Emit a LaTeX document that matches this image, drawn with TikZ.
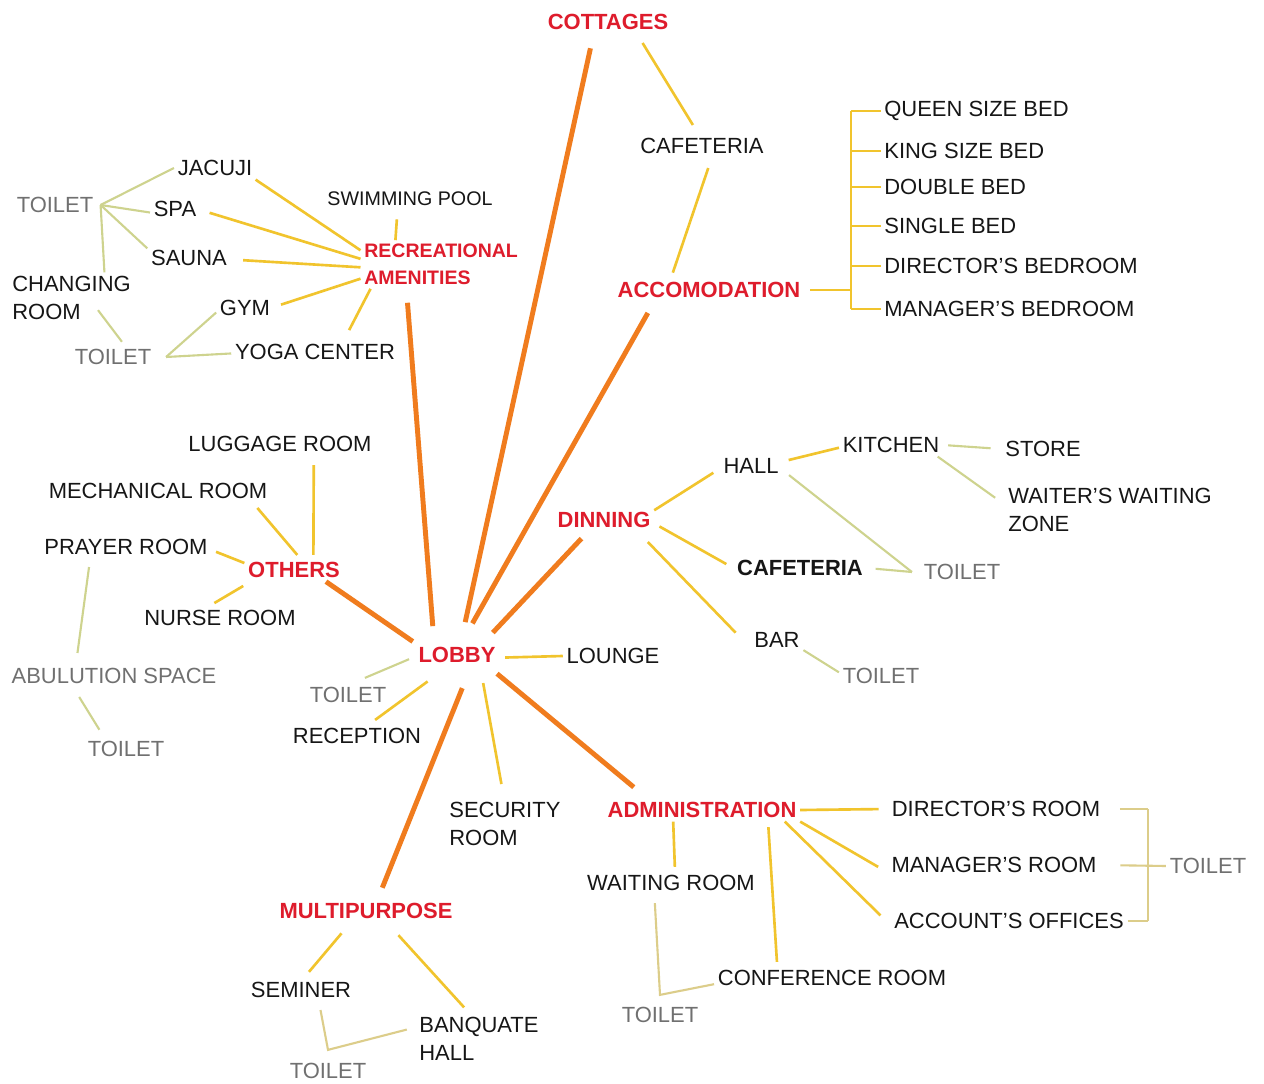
\documentclass[tikz,border=0pt]{standalone}
\usepackage{fontspec}
\setmainfont{Liberation Sans}
\usetikzlibrary{shapes.geometric, calc}

\definecolor{spokeorange}{RGB}{240,124,30}
\definecolor{linkyellow}{RGB}{241,196,45}
\definecolor{wcolive}{RGB}{206,211,142}
\definecolor{wctan}{RGB}{220,205,138}
\definecolor{hubred}{RGB}{222,28,44}
\definecolor{wcgray}{RGB}{112,112,112}
\definecolor{roomblack}{RGB}{22,22,22}

\tikzset{
	room/.style={text=roomblack, inner sep=2pt},
	hub/.style={text=hubred, font=\fontsize{12.5}{16}\selectfont\bfseries, inner sep=2pt},
	wc/.style={text=wcgray, inner sep=2pt},
	spoke/.style={draw=spokeorange, line width=2.8pt},
	link/.style={draw=linkyellow, line width=1.5pt},
	wcline/.style={draw=wcolive, line width=1.2pt},
	wcbrace/.style={draw=wctan, line width=1.2pt}
}

\begin{document}
\begin{tikzpicture}[x=0.02cm, y=-0.02cm, font=\fontsize{12.5}{16}\selectfont]
	\fill[white] (0,0) rectangle (1264,1084);
	\useasboundingbox (0,0) rectangle (1264,1084);

	% main blocks
	\node[hub]	(cottages)	at (608,22)	{COTTAGES};
	\node[hub]	(accom)	at (709,290)	{ACCOMODATION};
	\node[hub, font=\fontsize{11.1}{15.4}\selectfont\bfseries, align=left, anchor=west]	(rec)	at (360.5,264.5)	{RECREATIONAL\\AMENITIES};
	\node[hub]	(dinning)	at (604,520)	{DINNING};
	\node[hub]	(others)	at (294,570)	{OTHERS};
	\node[hub, shape=ellipse, inner xsep=-0.09cm, inner ysep=0pt, minimum height=1.32cm]	(lobby)	at (457,655)	{LOBBY};
	\node[hub]	(admin)	at (702,810)	{ADMINISTRATION};
	\node[hub]	(multi)	at (366,911)	{MULTIPURPOSE};

	% rooms
	\node[room]	(cafA)	at (702,146)	{CAFETERIA};
	\node[room, anchor=west]	(queen)	at (880.5,111)	{QUEEN SIZE BED};
	\node[room, anchor=west]	(king)	at (880.5,151)	{KING SIZE BED};
	\node[room, anchor=west]	(double)	at (880.5,187)	{DOUBLE BED};
	\node[room, anchor=west]	(single)	at (880.5,226)	{SINGLE BED};
	\node[room, anchor=west]	(dirbed)	at (880.5,266)	{DIRECTOR'S BEDROOM};
	\node[room, anchor=west]	(manbed)	at (880.5,309)	{MANAGER'S BEDROOM};

	\node[room]	(jacuji)	at (215,168)	{JACUJI};
	\node[room, font=\fontsize{11.2}{15.4}\selectfont]	(swimming)	at (410,199)	{SWIMMING POOL};
	\node[room]	(spa)	at (175,209)	{SPA};
	\node[room]	(sauna)	at (189,258)	{SAUNA};
	\node[room, align=left, anchor=west]	(changing)	at (8.5,298)	{CHANGING\\ROOM};
	\node[room]	(gym)	at (245,308)	{GYM};
	\node[room]	(yoga)	at (315,352)	{YOGA CENTER};
	\node[wc]	(wcA)	at (55,205)	{TOILET};
	\node[wc]	(wcB)	at (113,357)	{TOILET};

	\node[room]	(luggage)	at (280,444)	{LUGGAGE ROOM};
	\node[room]	(mech)	at (158,491)	{MECHANICAL ROOM};
	\node[room]	(prayer)	at (126,547)	{PRAYER ROOM};
	\node[room]	(nurse)	at (220,618)	{NURSE ROOM};
	\node[wc]	(abul)	at (114,676)	{ABULUTION SPACE};
	\node[wc]	(wcC)	at (126,749)	{TOILET};

	\node[wc]	(wcL)	at (348,695)	{TOILET};
	\node[room]	(reception)	at (357,736)	{RECEPTION};
	\node[room]	(lounge)	at (613,656)	{LOUNGE};
	\node[room, align=left, anchor=west]	(security)	at (445.5,824)	{SECURITY\\ROOM};

	\node[room]	(hall)	at (751,466)	{HALL};
	\node[room]	(kitchen)	at (891,445)	{KITCHEN};
	\node[room]	(store)	at (1043,449)	{STORE};
	\node[room, align=left, anchor=west]	(waiter)	at (1004.5,510)	{WAITER'S WAITING\\ZONE};
	\node[room, font=\fontsize{12.5}{16}\selectfont\bfseries]	(cafB)	at (800,568)	{CAFETERIA};
	\node[wc]	(wcD)	at (962,572)	{TOILET};
	\node[room]	(bar)	at (777,640)	{BAR};
	\node[wc]	(wcE)	at (881,676)	{TOILET};

	\node[room]	(dirroom)	at (996,809)	{DIRECTOR'S ROOM};
	\node[room]	(manroom)	at (994,865)	{MANAGER'S ROOM};
	\node[room]	(account)	at (1009,921)	{ACCOUNT'S OFFICES};
	\node[wc]	(wcG)	at (1208,866)	{TOILET};
	\node[room]	(waiting)	at (671,883)	{WAITING ROOM};
	\node[room]	(conference)	at (832,978)	{CONFERENCE ROOM};
	\node[wc]	(wcF)	at (660,1015)	{TOILET};

	\node[room]	(seminer)	at (301,990)	{SEMINER};
	\node[room, align=left, anchor=west]	(banquate)	at (415.5,1038.5)	{BANQUATE\\HALL};
	\node[wc]	(wcH)	at (328,1071)	{TOILET};

	% spokes from the lobby
	\draw[spoke, shorten >=0.3cm]	(lobby.76) -- (cottages.219);
	\draw[spoke, shorten >=0.28cm]	(lobby.130) -- (rec.215);
	\draw[spoke, shorten >=0.26cm]	(lobby.64) -- (accom.192);
	\draw[spoke, shorten >=0.19cm]	(lobby.32) -- (dinning.216);
	\draw[spoke]	(lobby.163) -- (others.340);
	\draw[spoke, shorten >=0.35cm]	(lobby.335) -- (admin.168);
	\draw[spoke, shorten >=0.25cm]	(lobby.279) -- (multi.45);

	\draw[link]	(lobby.357) -- (lounge.west);
	\draw[link, shorten >=0.29cm]	(lobby.313) -- (security.92);
	\draw[link, shorten >=0.15cm]	(lobby.222) -- (reception.44);
	\draw[wcline, shorten >=0.28cm]	(lobby.185) -- (wcL.71);

	% recreational amenities
	\draw[link]	(jacuji.344) -- (rec.170);
	\draw[link, shorten <=0.2cm]	(spa.358) -- (rec.176);
	\draw[link, shorten <=0.25cm]	(sauna.358) -- (rec.182);
	\draw[link, shorten <=0.15cm]	(gym.2) -- (rec.190);
	\draw[link, shorten <=0.23cm]	(yoga.22) -- (rec.199);
	\draw[link, shorten <=0.19cm]	(swimming.221) -- (rec.152);

	\coordinate (wcAhub) at ([xshift=0.07cm]wcA.east);
	\draw[wcline]	(wcAhub) -- (jacuji.180);
	\draw[wcline]	(wcAhub) -- (spa.188);
	\draw[wcline]	(wcAhub) -- (sauna.167);
	\draw[wcline]	(wcAhub) -- (changing.38);

	\coordinate (wcBhub) at ([xshift=0.22cm]wcB.east);
	\draw[wcline]	(wcBhub) -- (gym.189);
	\draw[wcline]	(wcBhub) -- (yoga.181);
	\draw[wcline, shorten <=-0.34cm, shorten >=0.09cm]	(changing.325) -- (wcB.45);

	% cottages and accomodation
	\draw[link, shorten <=0.22cm, shorten >=0.22cm]	(cottages.338) -- (cafA.106);
	\draw[link, shorten <=0.22cm, shorten >=0.12cm]	(cafA.310) -- (accom.163);

	\coordinate (accbr) at ([xshift=0.94cm]accom.east);
	\draw[link, shorten <=0.12cm]	(accom.east) -- (accbr);
	\draw[link]	(queen.west -| accbr) -- (manbed.west -| accbr);
	\foreach \bed in {queen, king, double, single, dirbed, manbed}
		\draw[link]	(\bed.west) -- (\bed.west -| accbr);

	% others
	\draw[link, shorten <=0.07cm, shorten >=0.19cm]	(others.31) -- (luggage.341);
	\draw[link, shorten <=0.09cm, shorten >=0.14cm]	(others.62) -- (mech.353);
	\draw[link, shorten >=0.1cm]	(others.172) -- (prayer.358);
	\draw[link, shorten <=0.17cm, shorten >=0.13cm]	(others.195) -- (nurse.134);
	\draw[wcline, shorten <=0.17cm, shorten >=0.23cm]	(prayer.198) -- (abul.163);
	\draw[wcline, shorten <=0.22cm, shorten >=0.18cm]	(abul.196) -- (wcC.152);

	% dinning
	\draw[link, shorten >=0.15cm]	(dinning.11) -- (hall.185);
	\draw[link, shorten <=0.12cm, shorten >=0.16cm]	(dinning.356) -- (cafB.west);
	\draw[link, shorten <=0.29cm, shorten >=0.43cm]	(dinning.341) -- (bar.197);
	\draw[link, shorten <=0.13cm]	(hall.8) -- (kitchen.183);

	\coordinate (wcDhub) at ([xshift=-0.16cm]wcD.west);
	\draw[wcline, shorten <=0.17cm]	(hall.353) -- (wcDhub);
	\draw[wcline, shorten <=0.18cm]	(cafB.east) -- (wcDhub);
	\draw[wcline, shorten <=0.1cm, shorten >=0.22cm]	(kitchen.east) -- (store.west);
	\draw[wcline, shorten >=0.23cm]	(kitchen.346) -- (waiter.177);
	\draw[wcline]	(bar.339) -- (wcE.175);

	% administration
	\draw[link, shorten >=0.19cm]	(admin.east) -- (dirroom.west);
	\draw[link, shorten >=0.22cm]	(admin.south east) -- (manroom.184);
	\draw[link, shorten >=0.28cm]	(admin.352) -- (account.182);
	\draw[link, shorten <=0.11cm, shorten >=0.09cm]	(admin.350) -- (conference.168);
	\draw[link, shorten >=0.09cm]	(admin.202) -- (waiting.71);

	\coordinate (wcFhub) at ([yshift=0.17cm]wcF.north);
	\draw[wcbrace, shorten <=0.17cm]	(waiting.215) -- (wcFhub) -- (conference.183);

	\coordinate (wcGspine) at ([xshift=-0.36cm]wcG.west);
	\draw[wcbrace, shorten <=0.32cm]	(dirroom.east) -- (dirroom.east -| wcGspine);
	\draw[wcbrace, shorten <=0.4cm]	(manroom.east) -- (wcG.west);
	\draw[wcbrace]	(account.east) -- (account.east -| wcGspine);
	\draw[wcbrace]	(dirroom.east -| wcGspine) -- (account.east -| wcGspine);

	% multipurpose
	\draw[link, shorten <=0.28cm, shorten >=0.17cm]	(multi.217) -- (seminer.78);
	\draw[link, shorten <=0.34cm, shorten >=0.15cm]	(multi.331) -- (banquate.111);

	\coordinate (wcHhub) at ([yshift=0.19cm]wcH.north);
	\draw[wcbrace, shorten <=0.17cm, shorten >=0.18cm]	(seminer.327) -- (wcHhub) -- (banquate.170);
\end{tikzpicture}
\end{document}
